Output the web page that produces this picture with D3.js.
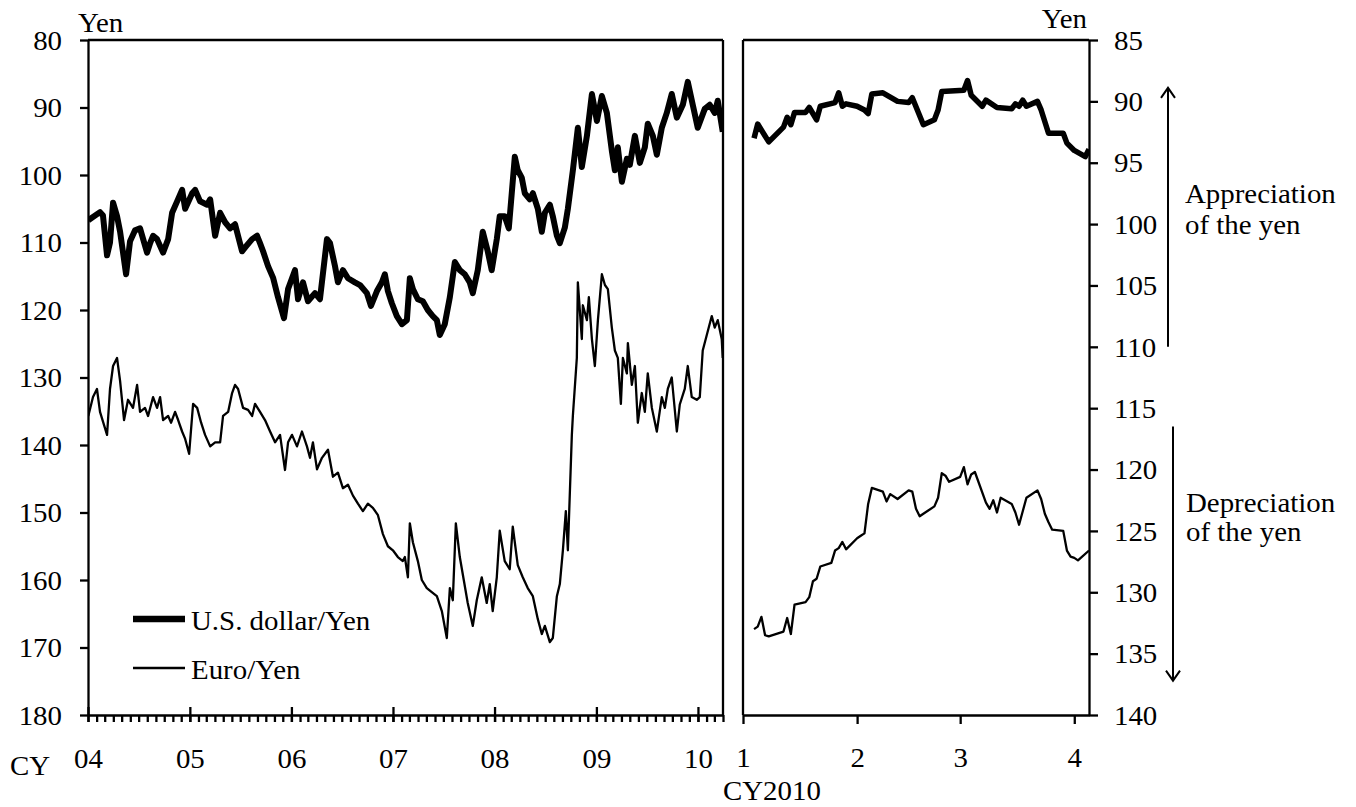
<!DOCTYPE html>
<html>
<head>
<meta charset="utf-8">
<script src="https://cdn.jsdelivr.net/npm/d3@7"></script>
<style>
body { margin: 0; background: #fff; }
svg text { font-family: "Liberation Serif", "Times New Roman", serif; font-size: 27px; fill: #000; }
.axis path, .axis line { stroke: #000; stroke-width: 2.3; }
</style>
</head>
<body>
<div id="chart"></div>
<script>
// ---- data ----
// left panel: decimal year -> yen
var usdT = [2004.003,2004.118,2004.147,2004.187,2004.216,2004.246,2004.285,2004.315,2004.374,2004.413,2004.462,2004.511,2004.580,2004.610,2004.639,2004.678,2004.737,2004.787,2004.826,2004.875,2004.924,2004.954,
  2005.023,2005.052,2005.101,2005.170,2005.200,2005.249,2005.298,2005.347,2005.396,2005.445,2005.514,2005.563,2005.613,2005.662,2005.691,2005.721,2005.770,2005.819,2005.868,2005.927,2005.967,
  2006.035,2006.065,2006.114,2006.163,2006.232,2006.281,2006.350,2006.380,2006.429,2006.458,2006.507,2006.557,2006.625,2006.675,2006.743,2006.783,2006.842,2006.891,2006.920,2006.950,2006.989,
  2007.038,2007.088,2007.137,2007.166,2007.196,2007.245,2007.294,2007.343,2007.392,2007.432,2007.461,2007.510,2007.560,2007.609,2007.658,2007.707,2007.756,2007.786,2007.835,2007.884,2007.933,2007.972,
  2008.022,2008.051,2008.100,2008.140,2008.169,2008.199,2008.228,2008.267,2008.297,2008.346,2008.376,2008.425,2008.464,2008.494,2008.543,2008.572,2008.612,2008.641,2008.690,2008.720,2008.769,2008.818,2008.857,2008.907,2008.956,
  2009.005,2009.054,2009.103,2009.152,2009.182,2009.211,2009.251,2009.300,2009.329,2009.379,2009.428,2009.477,2009.506,2009.556,2009.595,2009.644,2009.693,2009.742,2009.792,2009.851,2009.900,2009.949,2009.998,
  2010.067,2010.116,2010.165,2010.195,2010.244];
var usdYen = [106.7,105.5,106.0,111.9,110.0,104.1,106.1,108.4,114.7,109.8,108.2,107.9,111.5,110.1,109.0,109.5,111.5,109.5,105.6,103.9,102.2,105.0,
  102.7,102.2,103.9,104.4,103.6,109.0,105.6,107.0,107.9,107.3,111.3,110.4,109.5,109.0,110.1,111.3,113.5,115.2,118.1,121.2,116.9,
  114.1,118.4,115.9,118.7,117.5,118.4,109.5,110.1,113.5,115.9,114.1,115.3,115.9,116.3,117.5,119.4,117.2,115.9,114.7,117.2,119.0,
  120.9,122.1,121.5,115.3,116.9,118.4,118.7,120.0,120.9,121.5,123.7,122.1,118.1,112.9,114.1,114.7,115.9,117.5,114.1,108.4,111.3,114.1,
  109.5,106.1,106.1,107.9,102.7,97.3,99.3,100.4,102.7,103.6,102.7,105.0,108.4,105.6,104.4,106.1,109.0,110.1,107.8,105.0,99.3,93.0,98.8,94.2,88.0,
  92.0,88.3,90.8,96.4,99.3,95.9,101.0,97.6,98.5,94.2,98.2,95.9,92.4,94.2,97.0,93.0,90.8,88.0,91.5,89.6,86.2,89.6,93.0,
  90.2,89.6,90.8,89.0,93.6];

var eurT = [2004.003,2004.049,2004.088,2004.118,2004.187,2004.216,2004.246,2004.285,2004.315,2004.354,2004.393,2004.442,2004.482,2004.511,2004.560,2004.590,2004.639,2004.678,2004.708,2004.737,2004.787,2004.816,2004.855,2004.885,2004.924,2004.954,2004.993,
  2005.032,2005.072,2005.111,2005.150,2005.200,2005.249,2005.298,2005.327,2005.377,2005.416,2005.445,2005.475,2005.524,2005.573,2005.613,2005.642,2005.691,2005.740,2005.790,2005.839,2005.888,2005.937,2005.967,
  2006.006,2006.055,2006.104,2006.153,2006.183,2006.212,2006.252,2006.301,2006.360,2006.409,2006.458,2006.507,2006.557,2006.606,2006.655,2006.704,2006.753,2006.802,2006.852,2006.901,2006.950,2006.999,
  2007.048,2007.097,2007.117,2007.147,2007.166,2007.196,2007.245,2007.284,2007.333,2007.382,2007.432,2007.481,2007.530,2007.560,2007.589,2007.619,2007.658,2007.697,2007.736,2007.786,2007.825,2007.874,2007.923,2007.953,2007.982,
  2008.022,2008.051,2008.100,2008.149,2008.179,2008.228,2008.277,2008.326,2008.376,2008.425,2008.464,2008.494,2008.543,2008.572,2008.612,2008.641,2008.671,2008.700,2008.720,2008.759,2008.769,2008.808,2008.818,2008.857,2008.867,2008.907,2008.926,2008.956,2008.985,
  2009.015,2009.054,2009.084,2009.113,2009.152,2009.182,2009.211,2009.241,2009.261,2009.300,2009.310,2009.349,2009.379,2009.408,2009.447,2009.477,2009.506,2009.546,2009.595,2009.644,2009.674,2009.703,2009.742,2009.792,2009.821,2009.870,2009.900,2009.939,2009.988,
  2010.018,2010.047,2010.087,2010.136,2010.165,2010.195,2010.234,2010.244];
var eurYen = [135.7,132.9,131.7,135.1,138.5,131.7,128.3,127.1,130.5,136.3,133.3,134.5,131.1,135.1,134.5,135.7,132.9,134.5,132.9,136.3,135.7,136.7,135.1,136.3,138.0,139.1,141.3,
  133.9,134.5,136.7,138.5,140.2,139.6,139.6,135.7,135.1,132.3,131.1,131.7,134.5,134.8,135.7,133.9,135.1,136.3,138.0,139.6,138.5,143.7,139.6,
  138.5,140.2,138.0,140.2,141.9,139.6,143.6,141.9,140.7,144.7,144.1,146.4,145.9,147.5,148.7,149.8,148.7,149.3,150.4,153.2,155.0,155.6,
  156.6,157.2,156.6,159.6,151.6,154.4,157.2,160.0,161.2,161.8,162.4,164.6,168.6,161.2,163.0,151.6,156.6,160.0,163.4,166.8,163.0,159.6,163.4,160.6,164.6,
  159.6,152.7,157.2,158.4,152.1,157.8,159.6,161.2,162.4,165.8,168.0,166.8,169.2,168.6,162.4,160.6,155.6,149.8,155.6,138.5,135.7,127.1,115.9,124.3,119.3,121.5,118.1,124.3,128.3,
  121.5,114.7,116.3,116.9,122.6,126.0,127.1,133.9,127.1,129.4,124.9,131.1,128.3,136.7,132.3,135.1,129.4,134.5,138.0,132.9,134.5,131.7,130.0,138.0,134.0,131.7,128.3,132.9,133.3,
  132.9,126.0,123.7,120.9,122.6,121.5,124.3,127.1];

// right panel: 2010 daily
var usdDays = ["2010-01-04","2010-01-05","2010-01-08","2010-01-12","2010-01-13","2010-01-14","2010-01-15","2010-01-18","2010-01-19","2010-01-21","2010-01-22","2010-01-26","2010-01-27","2010-01-28","2010-01-29",
  "2010-02-01","2010-02-03","2010-02-04","2010-02-05","2010-02-08","2010-02-12","2010-02-15","2010-02-16","2010-02-19","2010-02-22","2010-02-23","2010-02-24",
  "2010-03-02","2010-03-03","2010-03-04","2010-03-07","2010-03-08","2010-03-11","2010-03-15","2010-03-16","2010-03-17","2010-03-18","2010-03-19","2010-03-22","2010-03-23","2010-03-25","2010-03-29","2010-03-30",
  "2010-04-01","2010-04-04","2010-04-05"];
var usdDaily = [93.0,91.85,93.3,92.1,91.3,91.9,90.9,90.9,90.5,91.5,90.4,90.1,89.3,90.4,90.2,
  90.4,90.7,91.0,89.4,89.3,90.0,90.1,89.7,91.9,91.5,90.7,89.2,
  89.1,88.3,89.5,90.4,89.9,90.5,90.6,90.2,90.4,89.9,90.4,90.0,90.7,92.6,92.6,93.4,
  94.0,94.5,93.9];

var eurDays = ["2010-01-04","2010-01-05","2010-01-06","2010-01-07","2010-01-08","2010-01-12","2010-01-13","2010-01-14","2010-01-15","2010-01-18","2010-01-19","2010-01-20","2010-01-21","2010-01-22","2010-01-25","2010-01-26","2010-01-27","2010-01-28","2010-01-29",
  "2010-02-01","2010-02-02","2010-02-03","2010-02-04","2010-02-05","2010-02-08","2010-02-09","2010-02-10","2010-02-12","2010-02-15","2010-02-16","2010-02-17","2010-02-18","2010-02-19","2010-02-22","2010-02-23","2010-02-24","2010-02-25","2010-02-26",
  "2010-03-01","2010-03-02","2010-03-03","2010-03-04","2010-03-05","2010-03-08","2010-03-09","2010-03-10","2010-03-11","2010-03-12","2010-03-15","2010-03-16","2010-03-17","2010-03-18","2010-03-19","2010-03-22","2010-03-23","2010-03-24","2010-03-25","2010-03-26","2010-03-29","2010-03-30","2010-03-31",
  "2010-04-01","2010-04-02","2010-04-05"];
var eurDaily = [133.0,132.8,132.0,133.5,133.6,133.2,132.1,133.4,131.0,130.8,130.4,129.1,128.9,127.9,127.6,126.6,126.4,125.9,126.5,
  125.6,125.4,125.2,122.8,121.5,121.8,122.6,122.0,122.4,121.7,121.8,123.2,123.8,123.6,123.0,122.3,120.3,120.5,121.0,
  120.6,119.8,121.2,120.4,120.2,122.7,123.2,122.5,123.5,122.3,122.8,123.5,124.5,123.4,122.3,121.7,122.4,123.6,124.3,124.9,125.0,126.6,127.1,
  127.2,127.4,126.6];

var leftTicks = [80, 90, 100, 110, 120, 130, 140, 150, 160, 170, 180];
var rightTicks = [85, 90, 95, 100, 105, 110, 115, 120, 125, 130, 135, 140];
var yearLabels = ["04", "05", "06", "07", "08", "09", "10"];
var monthLabels = ["1", "2", "3", "4"];
var seriesNames = ["U.S. dollar/Yen", "Euro/Yen"];

// ---- setup ----
var stretch = 1.07;   // the picture's type is a bit wide
var svg = d3.select("#chart").append("svg")
    .attr("width", 1356)
    .attr("height", 807)
    .attr("font-family", "Liberation Serif, Times New Roman, serif");

function yearToDate(t) {
    var y = Math.floor(t);
    var a = new Date(y, 0, 1), b = new Date(y + 1, 0, 1);
    return new Date(+a + (t - y) * (b - a));
}
var parseDay = d3.timeParse("%Y-%m-%d");

var usdLeft = usdT.map(function (t, i) { return { date: yearToDate(t), v: usdYen[i] }; });
var eurLeft = eurT.map(function (t, i) { return { date: yearToDate(t), v: eurYen[i] }; });
var usdRight = usdDays.map(function (d, i) { return { date: parseDay(d), v: usdDaily[i] }; });
var eurRight = eurDays.map(function (d, i) { return { date: parseDay(d), v: eurDaily[i] }; });

var xL = d3.scaleTime().domain([new Date(2004, 0, 1), new Date(2010, 3, 1)]).range([88, 723]);
var yL = d3.scaleLinear().domain([80, 180]).range([40, 715]);
var xR = d3.scaleTime().domain([new Date(2010, 0, 1), new Date(2010, 3, 5)]).range([743, 1089]);
var yR = d3.scaleLinear().domain([85, 140]).range([40, 715]);

function addText(x, y, str, anchor) {
    return svg.append("text")
        .attr("transform", "translate(" + x + "," + y + ") scale(" + stretch + ",1)")
        .attr("text-anchor", anchor || "start")
        .text(str);
}

// clip areas
var defs = svg.append("defs");
defs.append("clipPath").attr("id", "clipL").append("rect")
    .attr("x", 88).attr("y", 40).attr("width", 635).attr("height", 675);
defs.append("clipPath").attr("id", "clipR").append("rect")
    .attr("x", 743).attr("y", 40).attr("width", 346).attr("height", 675);

// ---- left panel ----
var lineL = d3.line().x(function (d) { return xL(d.date); }).y(function (d) { return yL(d.v); });

svg.append("path").datum(eurLeft)
    .attr("clip-path", "url(#clipL)")
    .attr("fill", "none").attr("stroke", "#000").attr("stroke-width", 2.3)
    .attr("stroke-linejoin", "round")
    .attr("d", lineL);
svg.append("path").datum(usdLeft)
    .attr("clip-path", "url(#clipL)")
    .attr("fill", "none").attr("stroke", "#000").attr("stroke-width", 6)
    .attr("stroke-linejoin", "round")
    .attr("d", lineL);

// y axis left
var gyL = svg.append("g").attr("class", "axis").attr("transform", "translate(88,0)")
    .call(d3.axisLeft(yL).tickValues(leftTicks).tickSize(8).tickPadding(18).tickSizeOuter(0));
gyL.selectAll("text")
    .attr("x", -26 / stretch)
    .attr("dy", "0.34em")
    .attr("transform", "scale(" + stretch + ",1)");

// x axis left: monthly minor ticks
svg.append("g").attr("class", "axis").attr("transform", "translate(0,715)")
    .call(d3.axisBottom(xL).ticks(d3.timeMonth.every(1)).tickSize(7).tickFormat("").tickSizeOuter(0));

// x axis left: yearly major ticks
var gxL = svg.append("g").attr("class", "axis").attr("transform", "translate(0,715)")
    .call(d3.axisBottom(xL).ticks(d3.timeYear.every(1)).tickSize(7).tickSizeOuter(0)
        .tickFormat(function (d, i) { return yearLabels[i]; }));
gxL.select(".domain").remove();
gxL.selectAll(".tick line").attr("y1", -8);
gxL.selectAll("text").attr("y", 53).attr("dy", 0)
    .attr("transform", "scale(" + stretch + ",1)");

// frame of left panel
svg.append("line").attr("x1", 88).attr("x2", 723).attr("y1", 40).attr("y2", 40)
    .attr("stroke", "#000").attr("stroke-width", 2.3);
svg.append("line").attr("x1", 723).attr("x2", 723).attr("y1", 40).attr("y2", 715)
    .attr("stroke", "#000").attr("stroke-width", 2.3);

// ---- right panel ----
var lineR = d3.line().x(function (d) { return xR(d.date); }).y(function (d) { return yR(d.v); });

svg.append("path").datum(eurRight)
    .attr("clip-path", "url(#clipR)")
    .attr("fill", "none").attr("stroke", "#000").attr("stroke-width", 2.3)
    .attr("stroke-linejoin", "round")
    .attr("d", lineR);
svg.append("path").datum(usdRight)
    .attr("clip-path", "url(#clipR)")
    .attr("fill", "none").attr("stroke", "#000").attr("stroke-width", 5.5)
    .attr("stroke-linejoin", "round")
    .attr("d", lineR);

var gyR = svg.append("g").attr("class", "axis").attr("transform", "translate(1089,0)")
    .call(d3.axisRight(yR).tickValues(rightTicks).tickSize(9).tickPadding(16).tickSizeOuter(0));
gyR.selectAll("text")
    .attr("x", 25 / stretch)
    .attr("dy", "0.34em")
    .attr("transform", "scale(" + stretch + ",1)");

var monthStarts = monthLabels.map(function (m, i) { return new Date(2010, i, 1); });
var gxR = svg.append("g").attr("class", "axis").attr("transform", "translate(0,715)")
    .call(d3.axisBottom(xR).tickValues(monthStarts).tickSize(9).tickSizeOuter(0)
        .tickFormat(function (d, i) { return monthLabels[i]; }));
gxR.selectAll("text").attr("y", 52).attr("dy", 0)
    .attr("transform", "scale(" + stretch + ",1)");

svg.append("line").attr("x1", 743).attr("x2", 1089).attr("y1", 40).attr("y2", 40)
    .attr("stroke", "#000").attr("stroke-width", 2.3);
svg.append("line").attr("x1", 743).attr("x2", 743).attr("y1", 40).attr("y2", 715)
    .attr("stroke", "#000").attr("stroke-width", 2.3);

// ---- labels ----
addText(78, 32, "Yen");
addText(1087, 28, "Yen", "end");
addText(10, 775, "CY");
addText(723, 800, "CY2010");

// legend
svg.append("line").attr("x1", 133).attr("x2", 185).attr("y1", 619).attr("y2", 619)
    .attr("stroke", "#000").attr("stroke-width", 6.5);
svg.append("line").attr("x1", 133).attr("x2", 185).attr("y1", 668).attr("y2", 668)
    .attr("stroke", "#000").attr("stroke-width", 2.3);
addText(191, 630, seriesNames[0]);
addText(191, 679, seriesNames[1]);

// arrows
var arrows = svg.append("g").attr("stroke", "#000").attr("stroke-width", 2).attr("fill", "none");
var ax1 = 1168, ay1 = yR(110), ay0 = yR(88.9);
arrows.append("line").attr("x1", ax1).attr("x2", ax1).attr("y1", ay1).attr("y2", ay0);
arrows.append("path").attr("d", "M" + (ax1 - 7) + "," + (ay0 + 10) + "L" + ax1 + "," + ay0 + "L" + (ax1 + 7) + "," + (ay0 + 10));
var ax2 = 1173, by0 = yR(116.5), by1 = yR(137.2);
arrows.append("line").attr("x1", ax2).attr("x2", ax2).attr("y1", by0).attr("y2", by1);
arrows.append("path").attr("d", "M" + (ax2 - 7) + "," + (by1 - 10) + "L" + ax2 + "," + by1 + "L" + (ax2 + 7) + "," + (by1 - 10));

addText(1185, 203, "Appreciation");
addText(1185, 234, "of the yen");
addText(1186, 512, "Depreciation");
addText(1186, 541, "of the yen");
</script>
</body>
</html>
